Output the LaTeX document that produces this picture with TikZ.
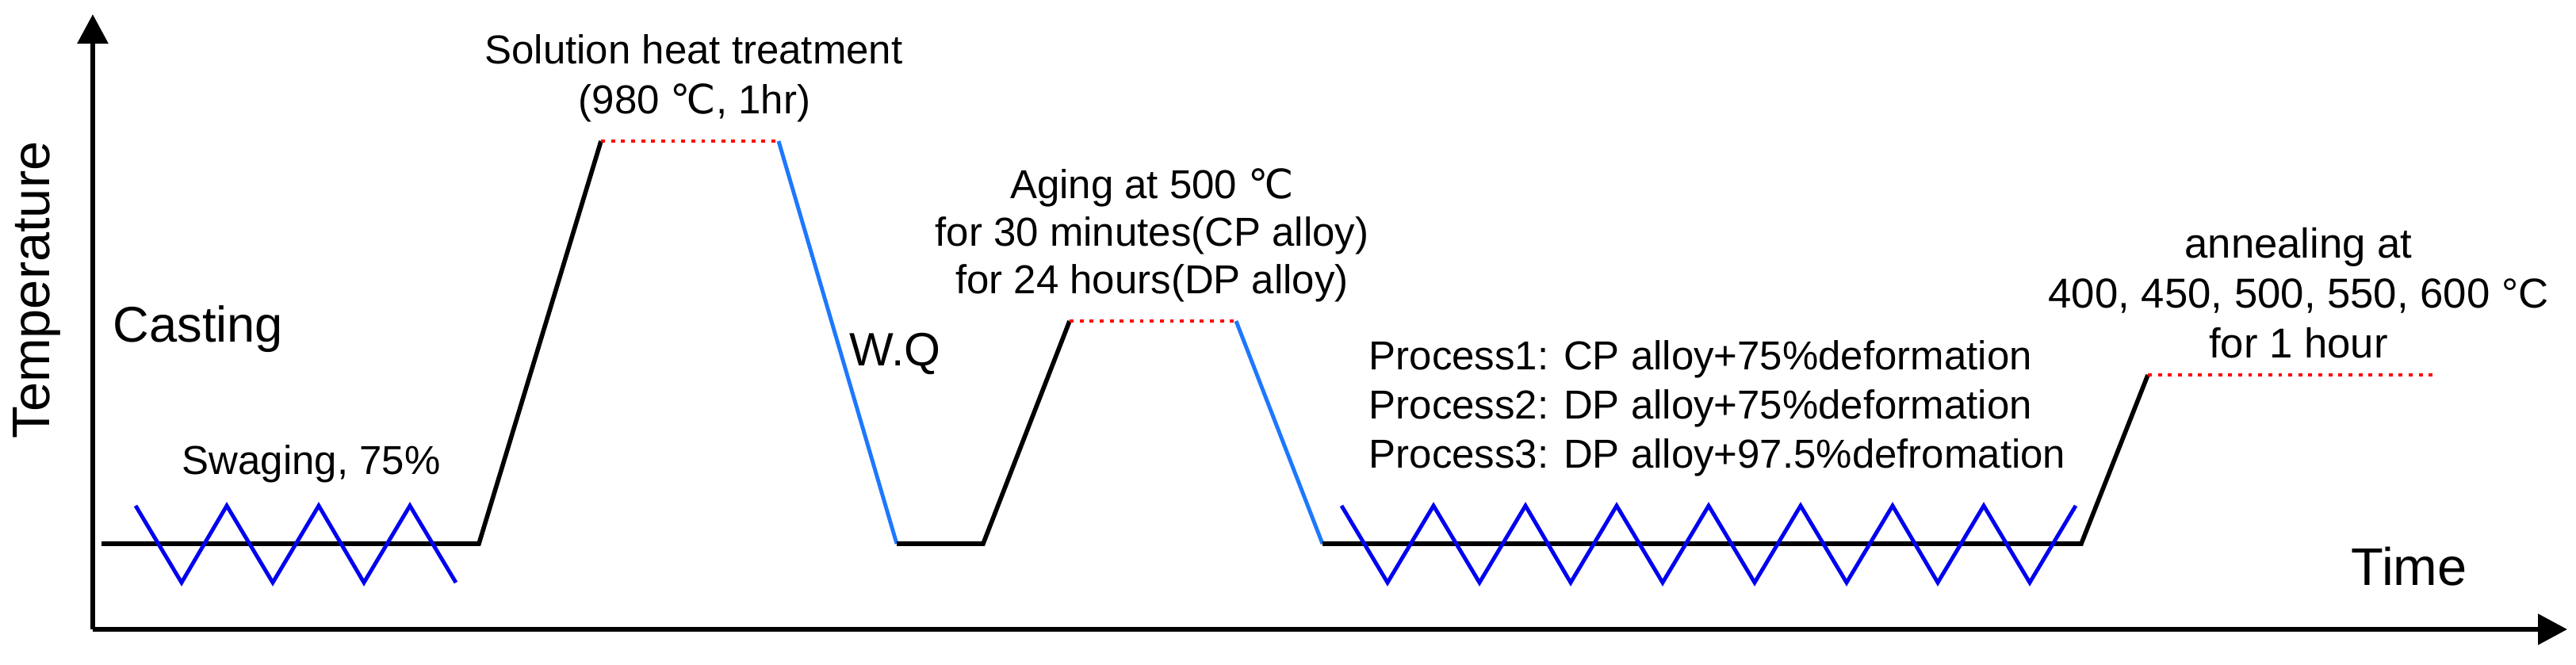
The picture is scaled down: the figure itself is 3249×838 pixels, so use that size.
\documentclass[tikz,border=0pt]{standalone}
\usepackage{fontspec}
\setmainfont{Liberation Sans}
\newfontfamily\symfont{DejaVu Sans}
\usetikzlibrary{arrows.meta}

\definecolor{zigblue}{RGB}{0,0,240}
\definecolor{quenchblue}{RGB}{30,120,255}
\definecolor{holdred}{RGB}{255,0,0}

\tikzset{
  axis/.style   = {line width=1.7pt, -{Triangle[width=3.8mm,length=3.7mm]}},
  ramp/.style   = {line width=1.6pt, black},
  quench/.style = {line width=1.4pt, quenchblue},
  hold/.style   = {line width=1.4pt, holdred, dash pattern=on 1.4pt off 2.2pt},
  zig/.style    = {line width=1.4pt, zigblue},
  lbl/.style    = {inner sep=0pt, font=\fontsize{14.5}{17.1}\selectfont},
  biglbl/.style = {inner sep=0pt, font=\fontsize{19}{22}\selectfont},
}

\begin{document}
\begin{tikzpicture}[x=0.1mm,y=-0.1mm]
  \useasboundingbox (0,0) rectangle (3249,838);

  % axes
  \coordinate (origin) at (117,794);
  \coordinate (ytip)   at (117,18);
  \coordinate (xtip)   at (3238,794);
  \draw[axis] (origin) -- (ytip);
  \draw[axis] (origin) -- (xtip);

  % temperature profile
  \coordinate (s0) at (128,686);   \coordinate (s1) at (604,686);
  \coordinate (h0) at (758,178);   \coordinate (h1) at (982,178);
  \coordinate (q0) at (1131,686);  \coordinate (q1) at (1240,686);
  \coordinate (a0) at (1349,405);  \coordinate (a1) at (1559,405);
  \coordinate (d0) at (1668,686);  \coordinate (d1) at (2625,686);
  \coordinate (n0) at (2709,473);  \coordinate (n1) at (3074,473);

  \draw[ramp]   (s0) -- (s1) -- (h0);
  \draw[hold]   (h0) -- (h1);
  \draw[quench] (h1) -- (q0);
  \draw[ramp]   (q0) -- (q1) -- (a0);
  \draw[hold]   (a0) -- (a1);
  \draw[quench] (a1) -- (d0);
  \draw[ramp]   (d0) -- (d1) -- (n0);
  \draw[hold]   (n0) -- (n1);

  % deformation
  \draw[zig] (171,638) -- (229,735) -- (286,638) -- (344,735) -- (402,638)
             -- (459,735) -- (517,638) -- (575,735);
  \draw[zig] (1692,638) -- (1750,735) -- (1808,638) -- (1866,735) -- (1924,638)
             -- (1981,735) -- (2039,638) -- (2097,735) -- (2155,638)
             -- (2213,735) -- (2271,638) -- (2329,735) -- (2387,638)
             -- (2444,735) -- (2502,638) -- (2560,735) -- (2618,638);

  % labels
  \node[biglbl,rotate=90] (temp) at (46,366) {Temperature};
  \node[biglbl,font=\fontsize{18}{21}\selectfont,anchor=base west] (casting) at (142,431) {Casting};
  \node[lbl,anchor=base west] (swaging) at (229,598) {Swaging, 75\%};
  \node[lbl,anchor=base] (solution) at (875,80) {Solution heat treatment};
  \node[lbl,anchor=base] (soltemp) at (876,143) {(980 {\symfont ℃}, 1hr)};
  \node[lbl,font=\fontsize{16.8}{20}\selectfont,anchor=base west] (wq) at (1071,461) {W.Q};
  \node[lbl,align=center,anchor=north] (aging) at (1453,212)
    {Aging at 500 {\symfont ℃}\\for 30 minutes(CP alloy)\\for 24 hours(DP alloy)};
  \node[lbl,font=\fontsize{14.5}{17.6}\selectfont,align=left,anchor=north west] (process) at (1726,429)
    {Process1: CP alloy+75\%deformation\\Process2: DP alloy+75\%deformation\\Process3: DP alloy+97.5\%defromation};
  \node[lbl,font=\fontsize{15}{17.9}\selectfont,align=center,anchor=north] (anneal) at (2899,287)
    {annealing at\\400, 450, 500, 550, 600 °C\\for 1 hour};
  \node[biglbl,anchor=base west] (time) at (2965,738) {Time};
\end{tikzpicture}
\end{document}
